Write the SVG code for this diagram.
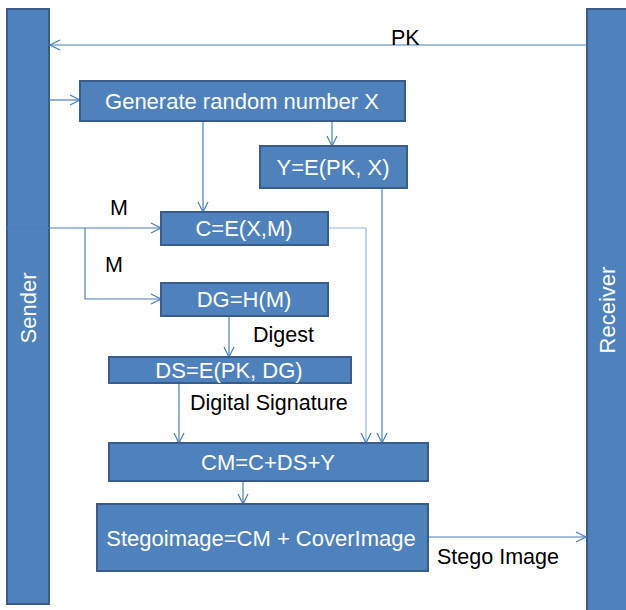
<svg xmlns="http://www.w3.org/2000/svg" width="626" height="610" viewBox="0 0 626 610">
<defs>
<marker id="arr" viewBox="0 0 12 12" refX="11" refY="6" markerWidth="12" markerHeight="12" markerUnits="userSpaceOnUse" orient="auto">
<path d="M1,1 L11,6 L1,11" fill="none" stroke="#4A7EBB" stroke-width="1.2"/>
</marker>
</defs>
<style>
.box{fill:#4F81BD;stroke:#385D8A;stroke-width:2}
.wt{fill:#FFFFFF;font-family:"Liberation Sans",Arial,sans-serif;font-size:22px;text-anchor:middle}
.bt{fill:#000000;font-family:"Liberation Sans",Arial,sans-serif;font-size:21.5px}
.c{fill:none;stroke:#4A7EBB;stroke-width:1.2}
</style>
<rect width="626" height="610" fill="#FFFFFF"/>
<g id="sender">
<rect class="box" x="7" y="9" width="42" height="595"/>
<text class="wt" transform="translate(36,308) rotate(-90)">Sender</text>
</g>
<g id="receiver">
<rect class="box" x="587" y="9" width="42" height="605"/>
<text class="wt" transform="translate(615,310) rotate(-90)">Receiver</text>
</g>
<g id="connectors">
<line class="c" x1="587" y1="45" x2="50" y2="45" marker-end="url(#arr)"/>
<line class="c" x1="49" y1="100" x2="80" y2="100" marker-end="url(#arr)"/>
<line class="c" x1="332" y1="121" x2="332" y2="146" marker-end="url(#arr)"/>
<line class="c" x1="203" y1="121" x2="203" y2="212" marker-end="url(#arr)"/>
<line class="c" x1="7" y1="228" x2="161" y2="228" marker-end="url(#arr)"/>
<polyline class="c" points="85,228 85,299 161,299" marker-end="url(#arr)"/>
<polyline class="c" points="328,228 366,228 366,443" marker-end="url(#arr)" style="stroke:#95B3D7"/>
<line class="c" x1="382" y1="188" x2="382" y2="443" marker-end="url(#arr)"/>
<line class="c" x1="229" y1="316" x2="229" y2="357" marker-end="url(#arr)"/>
<line class="c" x1="179" y1="383" x2="179" y2="443" marker-end="url(#arr)"/>
<line class="c" x1="243" y1="481" x2="243" y2="504" marker-end="url(#arr)"/>
<line class="c" x1="428" y1="537" x2="586" y2="537" marker-end="url(#arr)"/>
</g>
<g id="gen">
<rect class="box" x="80" y="81" width="325" height="40"/>
<text class="wt" x="242" y="109">Generate random number X</text>
</g>
<g id="y">
<rect class="box" x="260" y="146" width="147" height="42"/>
<text class="wt" x="333" y="175">Y=E(PK, X)</text>
</g>
<g id="c">
<rect class="box" x="161" y="212" width="167" height="33"/>
<text class="wt" x="244" y="236">C=E(X,M)</text>
</g>
<g id="dg">
<rect class="box" x="161" y="283" width="167" height="33"/>
<text class="wt" x="244" y="307">DG=H(M)</text>
</g>
<g id="ds">
<rect class="box" x="109" y="357" width="242" height="26"/>
<text class="wt" x="229" y="378">DS=E(PK, DG)</text>
</g>
<g id="cm">
<rect class="box" x="109" y="443" width="319" height="38"/>
<text class="wt" x="268" y="470">CM=C+DS+Y</text>
</g>
<g id="stego">
<rect class="box" x="97" y="504" width="331" height="67"/>
<text class="wt" x="261" y="546">Stegoimage=CM + CoverImage</text>
</g>
<g id="labels">
<text class="bt" x="391" y="45">PK</text>
<text class="bt" x="110" y="215">M</text>
<text class="bt" x="105" y="272">M</text>
<text class="bt" x="253" y="342">Digest</text>
<text class="bt" x="190" y="410">Digital Signature</text>
<text class="bt" x="437" y="564">Stego Image</text>
</g>
</svg>
